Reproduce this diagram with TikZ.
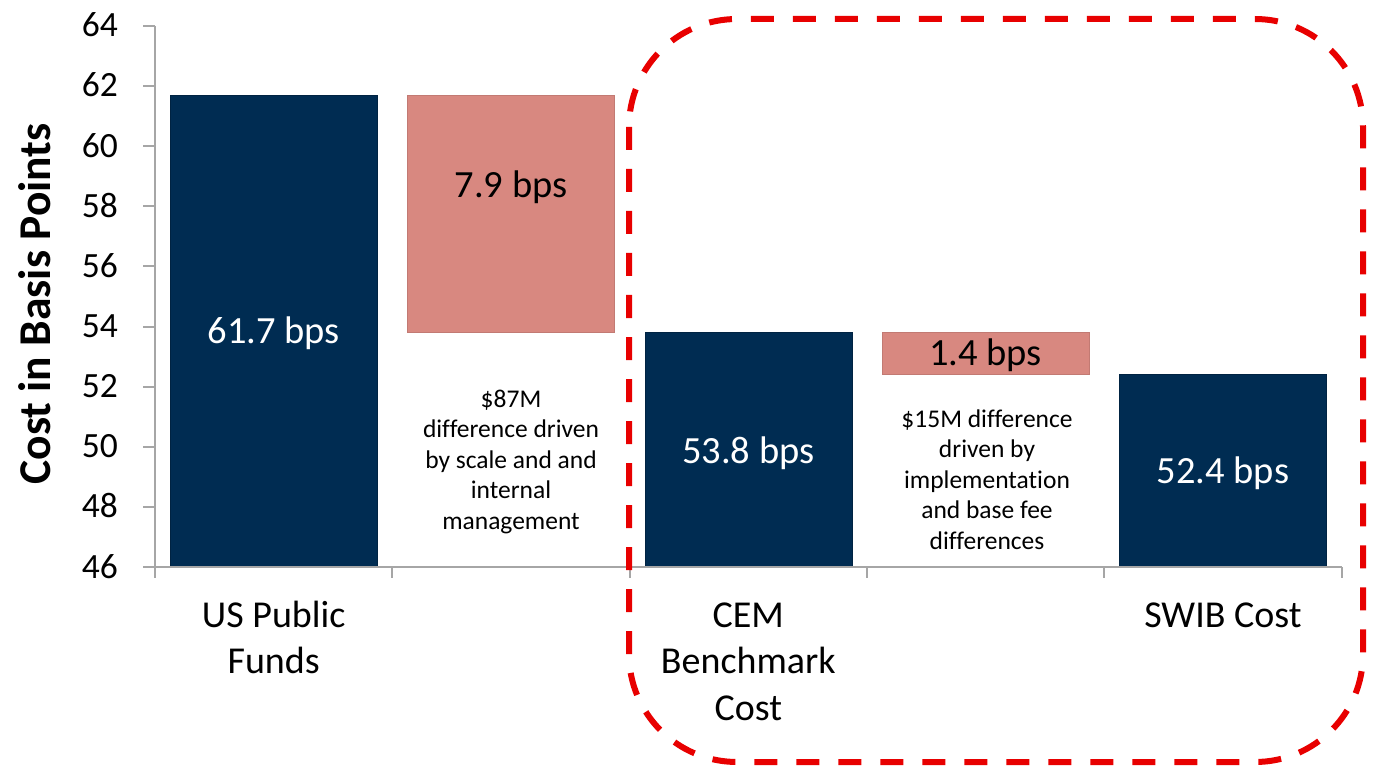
\documentclass[tikz,border=0pt]{standalone}
\usepackage{fontspec}
\setmainfont{Carlito}[Ligatures=NoCommon]
\definecolor{navy}{RGB}{0,44,82}
\definecolor{pinkbar}{RGB}{216,136,128}
\definecolor{dashred}{RGB}{232,0,0}
\definecolor{axisgray}{RGB}{166,166,166}
\tikzset{
  navybar/.style={fill=navy,draw=navy!80!black,line width=0.8pt},
  pinkfill/.style={fill=pinkbar,draw=pinkbar!90!black,line width=0.6pt},
  axisline/.style={draw=axisgray,line width=2pt},
  ticklab/.style={font=\fontsize{35.5}{42}\selectfont,anchor=base east,inner sep=0pt},
  barlab/.style={font=\fontsize{38.5}{46}\selectfont,anchor=base,inner sep=0pt},
  catlab/.style={font=\fontsize{38}{46.5}\selectfont,align=center,anchor=north,inner sep=0pt},
  notelab/.style={font=\fontsize{25.5}{30.5}\selectfont,align=center,anchor=north,inner sep=0pt},
  redbox/.style={draw=dashred,line width=6pt,dash pattern=on 23pt off 19pt,rounded corners=108pt}
}
\begin{document}
\begin{tikzpicture}[x=1pt,y=-1pt]
\useasboundingbox (0,0) rectangle (1373,767);
% bars
\fill[navybar] (170,95.1) rectangle (377,567);
\fill[pinkfill] (407.5,95.1) rectangle (614.5,332.5);
\fill[navybar] (645,332.5) rectangle (852,567);
\fill[pinkfill] (882,332.5) rectangle (1089,374.6);
\fill[navybar] (1119,374.6) rectangle (1326,567);
% axes
\draw[axisline] (155,25.9) -- (155,578);
\draw[axisline] (143,567) -- (1341.5,567);
\foreach \yy in {25.9,86.0,146.2,206.3,266.4,326.5,386.6,446.8,506.9}
  \draw[axisline] (143,\yy) -- (155,\yy);
\foreach \xx in {392.3,629.6,866.9,1104.2,1341.5}
  \draw[axisline] (\xx,567) -- (\xx,578);
% tick labels
\node[ticklab] (t64) at (118,36.9) {64};
\node[ticklab] (t62) at (118,97.0) {62};
\node[ticklab] (t60) at (118,157.2) {60};
\node[ticklab] (t58) at (118,217.3) {58};
\node[ticklab] (t56) at (118,277.4) {56};
\node[ticklab] (t54) at (118,337.5) {54};
\node[ticklab] (t52) at (118,397.6) {52};
\node[ticklab] (t50) at (118,457.8) {50};
\node[ticklab] (t48) at (118,517.9) {48};
\node[ticklab] (t46) at (118,578.0) {46};
% axis title
\node[font=\fontsize{45.5}{52}\selectfont\bfseries,rotate=90,anchor=base,inner sep=0pt] (ytitle) at (50,304) {Cost in Basis Points};
% bar labels
\node[barlab,text=white] (l1) at (273.7,343) {61.7 bps};
\node[barlab] (l2) at (511,198) {7.9 bps};
\node[barlab,text=white] (l3) at (748.3,463) {53.8 bps};
\node[barlab] (l4) at (985.6,365) {1.4 bps};
\node[barlab,text=white] (l5) at (1222.9,483) {52.4 bps};
% notes
\node[notelab] (n1) at (511,385.6) {\strut\$87M\\difference driven\\by scale and and\\internal\\management};
\node[notelab] (n2) at (987,405.6) {\strut\$15M difference\\driven by\\implementation\\and base fee\\differences};
% category labels
\node[catlab] (c1) at (273.7,594.5) {\strut US Public\\Funds};
\node[catlab] (c3) at (748.3,594.5) {\strut CEM\\Benchmark\\Cost};
\node[catlab] (c5) at (1222.9,594.5) {\strut SWIB Cost};
% dashed highlight
\draw[redbox] (629,19) rectangle (1363,762);
\end{tikzpicture}
\end{document}
